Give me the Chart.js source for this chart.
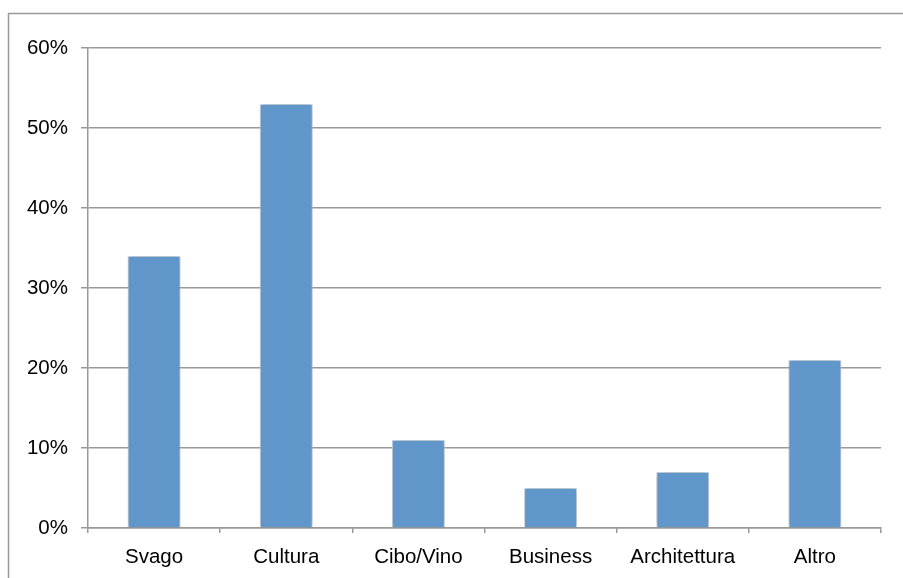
<!DOCTYPE html>
<html><head><meta charset="utf-8">
<script src="https://cdn.jsdelivr.net/npm/chart.js@4/dist/chart.umd.min.js"></script>
<style>html,body{margin:0;padding:0;background:#fff;}#wrap{width:903px;height:578px;position:relative;}</style>
</head><body><div id="wrap"><canvas id="c" width="903" height="578"></canvas></div>
<script>
const categories = ["Svago","Cultura","Cibo/Vino","Business","Architettura","Altro"];
const values = [34, 53, 11, 5, 7, 21];
const yTicks = [0,10,20,30,40,50,60];

const frame = {
  id:'frame',
  beforeDraw(chart){
    const ctx = chart.ctx;
    ctx.save();
    ctx.strokeStyle = '#9a9a9a';
    ctx.lineWidth = 1.5;
    ctx.strokeRect(8.5, 13.5, 1000, 1000);
    ctx.restore();
  },
  beforeDatasetsDraw(chart){
    const ctx = chart.ctx;
    ctx.save();
    ctx.shadowColor = 'rgba(0,0,0,0.3)';
    ctx.shadowBlur = 6;
    ctx.shadowOffsetX = 0;
    ctx.shadowOffsetY = 0;
  },
  afterDatasetsDraw(chart){
    chart.ctx.restore();
  }
};

new Chart(document.getElementById('c'), {
  type:'bar',
  data:{labels:categories, datasets:[{data:values, backgroundColor:'#6096c9', borderColor:'#d6e3f0', borderWidth:1, barPercentage:0.4, categoryPercentage:1}]},
  options:{
    responsive:false, animation:false,
    layout:{padding:{left:0, top:48, right:22, bottom:0}},
    plugins:{legend:{display:false}, tooltip:{enabled:false}},
    scales:{
      x:{
        offset:true,
        grid:{offset:true, drawOnChartArea:false, drawTicks:true, tickLength:5, color:'#999', lineWidth:1.5},
        border:{display:true, color:'#999', width:1.5},
        ticks:{color:'#000', font:{family:'Liberation Sans, Arial', size:20.5}, padding:12, maxRotation:0},
        afterFit(s){ s.height = 50; }
      },
      y:{
        min:0, max:60,
        afterBuildTicks(s){ s.ticks = yTicks.map(v=>({value:v})); },
        grid:{color:'#999', lineWidth:1.5, drawTicks:true, tickLength:7},
        border:{display:true, color:'#999', width:1.5},
        ticks:{color:'#000', font:{family:'Liberation Sans, Arial', size:20.5}, padding:13, callback:v=>v+'%'},
        afterFit(s){ s.width = 88; }
      }
    }
  },
  plugins:[frame]
});
</script></body></html>
